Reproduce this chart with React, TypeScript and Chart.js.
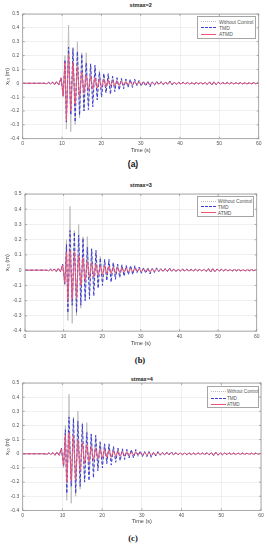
import React, { useEffect, useRef } from "react";
import { Chart, registerables } from "chart.js";

Chart.register(...registerables);

// ---------------- data ----------------
const TIME = [
  0, 5.6, 6.1, 6.6, 7.1, 7.6, 8.1, 8.6, 9.2, 9.75, 10.3, 10.75,
  11.1, 11.66, 12.22, 12.78, 13.34, 13.9, 14.46, 15.02, 15.58, 16.14,
  16.7, 17.26, 17.82, 18.38, 18.94, 19.5, 20.06, 20.62, 21.18, 21.74,
  22.3, 22.86, 23.42, 23.98, 24.54, 25.1, 25.66, 26.22, 26.78, 27.34,
  27.9, 28.46, 29.02, 29.58, 30.14, 30.7, 31.26, 31.82, 32.38, 32.94,
  33.5, 34.06, 34.62, 35.18, 35.74, 36.3, 36.86, 37.42, 37.98, 38.54,
  39.1, 39.66, 40.22, 40.78, 41.34, 41.9, 42.46, 43.02, 43.58, 44.14,
  44.7, 45.26, 45.82, 46.38, 46.94, 47.5, 48.06, 48.62, 49.18, 49.74,
  50.3, 50.86, 51.42, 51.98, 52.54, 53.1, 53.66, 54.22, 54.78, 55.34,
  55.9, 56.46, 57.02, 57.58, 58.14, 58.7, 59.26, 59.82, 60,
];

const WITHOUT_CONTROL = [
  0, 0, -0.004, 0.005, -0.006, 0.008, -0.01, 0.013, -0.012, 0.04, -0.1, 0.2,
  -0.33, 0.42, -0.35, 0.26, -0.3, 0.3, -0.25, 0.22, -0.2, 0.22,
  -0.15, 0.14, -0.12, 0.12, -0.1, 0.09, -0.08, 0.07, -0.06, 0.06,
  -0.05, 0.05, -0.04, 0.04, -0.035, 0.03, -0.03, 0.03, -0.025, 0.025,
  -0.02, 0.02, -0.02, 0.018, -0.02, 0.015, -0.015, 0.015, -0.02, 0.012,
  -0.012, 0.012, -0.01, 0.01, -0.01, 0.01, -0.008, 0.012, -0.01, 0.008,
  -0.008, 0.007, -0.007, 0.007, -0.006, 0.006, -0.006, 0.006, -0.006, 0.006,
  -0.005, 0.006, -0.006, 0.007, -0.008, 0.01, -0.012, 0.012, -0.01, 0.008,
  -0.007, 0.006, -0.006, 0.005, -0.005, 0.005, -0.005, 0.005, -0.005, 0.005,
  -0.004, 0.004, -0.004, 0.004, -0.004, 0.004, -0.003, 0.003, 0,
];

const TMD = [
  0, 0, -0.004, 0.006, -0.005, 0.008, -0.01, 0.012, -0.01, 0.04, -0.09, 0.17,
  -0.28, 0.26, -0.23, 0.25, -0.28, 0.23, -0.23, 0.21, -0.2, 0.15,
  -0.19, 0.14, -0.17, 0.13, -0.12, 0.08, -0.1, 0.07, -0.07, 0.07,
  -0.08, 0.05, -0.06, 0.04, -0.05, 0.035, -0.04, 0.03, -0.03, 0.03,
  -0.03, 0.03, -0.015, 0.02, -0.02, 0.015, -0.02, 0.015, -0.025, 0.01,
  -0.015, 0.015, -0.01, 0.012, -0.01, 0.01, -0.008, 0.015, -0.01, 0.008,
  -0.008, 0.007, -0.006, 0.008, -0.007, 0.006, -0.006, 0.005, -0.007, 0.006,
  -0.005, 0.006, -0.005, 0.007, -0.008, 0.01, -0.014, 0.012, -0.01, 0.008,
  -0.007, 0.006, -0.005, 0.006, -0.005, 0.005, -0.006, 0.005, -0.004, 0.005,
  -0.005, 0.004, -0.005, 0.004, -0.004, 0.005, -0.004, 0.003, 0,
];

const ATMD_STMAX2 = [
  0, 0, -0.004, 0.006, -0.005, 0.008, -0.01, 0.012, -0.01, 0.04, -0.09, 0.15,
  -0.27, 0.21, -0.2, 0.15, -0.15, 0.12, -0.1, 0.08, -0.07, 0.06,
  -0.05, 0.05, -0.04, 0.04, -0.035, 0.03, -0.03, 0.03, -0.025, 0.025,
  -0.02, 0.02, -0.02, 0.015, -0.015, 0.015, -0.012, 0.012, -0.012, 0.01,
  -0.01, 0.012, -0.008, 0.01, -0.01, 0.008, -0.008, 0.008, -0.012, 0.008,
  -0.008, 0.008, -0.006, 0.008, -0.006, 0.006, -0.006, 0.01, -0.006, 0.006,
  -0.005, 0.005, -0.005, 0.006, -0.005, 0.005, -0.005, 0.004, -0.005, 0.005,
  -0.004, 0.005, -0.005, 0.006, -0.007, 0.009, -0.012, 0.01, -0.008, 0.006,
  -0.005, 0.005, -0.004, 0.005, -0.004, 0.004, -0.005, 0.004, -0.004, 0.004,
  -0.004, 0.003, -0.004, 0.003, -0.003, 0.004, -0.003, 0.003, 0,
];

const ATMD_STMAX3 = [
  0, 0, -0.004, 0.006, -0.005, 0.008, -0.01, 0.012, -0.01, 0.035, -0.08, 0.12,
  -0.2, 0.13, -0.19, 0.12, -0.18, 0.1, -0.1, 0.08, -0.07, 0.06,
  -0.05, 0.05, -0.045, 0.04, -0.035, 0.03, -0.03, 0.03, -0.025, 0.025,
  -0.02, 0.02, -0.02, 0.018, -0.015, 0.015, -0.012, 0.012, -0.012, 0.01,
  -0.01, 0.012, -0.008, 0.01, -0.01, 0.008, -0.008, 0.008, -0.012, 0.008,
  -0.008, 0.008, -0.006, 0.008, -0.006, 0.006, -0.006, 0.01, -0.006, 0.006,
  -0.005, 0.005, -0.005, 0.006, -0.005, 0.005, -0.005, 0.004, -0.005, 0.005,
  -0.004, 0.005, -0.005, 0.006, -0.007, 0.009, -0.012, 0.01, -0.008, 0.006,
  -0.005, 0.005, -0.004, 0.005, -0.004, 0.004, -0.005, 0.004, -0.004, 0.004,
  -0.004, 0.003, -0.004, 0.003, -0.003, 0.004, -0.003, 0.003, 0,
];

const ATMD_STMAX4 = [
  0, 0, -0.004, 0.006, -0.005, 0.008, -0.01, 0.012, -0.01, 0.035, -0.08, 0.13,
  -0.2, 0.15, -0.19, 0.13, -0.18, 0.1, -0.12, 0.08, -0.07, 0.065,
  -0.055, 0.05, -0.045, 0.04, -0.035, 0.035, -0.03, 0.03, -0.025, 0.025,
  -0.022, 0.02, -0.02, 0.018, -0.015, 0.015, -0.013, 0.012, -0.012, 0.01,
  -0.01, 0.012, -0.008, 0.01, -0.01, 0.008, -0.008, 0.008, -0.012, 0.008,
  -0.008, 0.008, -0.006, 0.008, -0.006, 0.006, -0.006, 0.01, -0.006, 0.006,
  -0.005, 0.005, -0.005, 0.006, -0.005, 0.005, -0.005, 0.004, -0.005, 0.005,
  -0.004, 0.005, -0.005, 0.006, -0.007, 0.009, -0.012, 0.01, -0.008, 0.006,
  -0.005, 0.005, -0.004, 0.005, -0.004, 0.004, -0.005, 0.004, -0.004, 0.004,
  -0.004, 0.003, -0.004, 0.003, -0.003, 0.004, -0.003, 0.003, 0,
];

const ATMD_SERIES = [ATMD_STMAX2, ATMD_STMAX3, ATMD_STMAX4];
const PANEL_TITLES = ["stmax=2", "stmax=3", "stmax=4"];
const PANEL_LABELS = ["(a)", "(b)", "(c)"];
const SERIES_NAMES = ["Without Control", "TMD", "ATMD"];
const X_TITLE = "Time (s)";
const Y_TITLE = "x\u2081\u2080 (m)";
const X_MIN = 0, X_MAX = 60, X_STEP = 10;
const Y_MIN = -0.4, Y_MAX = 0.5, Y_STEP = 0.1;

// ---------------- styles / layout ----------------
const FONT = "'Liberation Sans', Arial, Helvetica, sans-serif";
const COL_UNC = "rgba(175,175,175,0.85)";
const COL_TMD = "rgb(60,60,215)";
const COL_ATMD = "rgb(240,85,115)";

const PANELS = [
  {
    plot: { l: 22.7, t: 14, r: 258.7, b: 138.7 },
    titleY: 5, labelX: 133, labelY: 164, labelFont: FONT,
    xTitleOff: 12, tickOff: 5.3,
    legend: { l: 197, t: 16, w: 59, h: 23, fs: 5, rows: [4.7, 10.7, 17.3], tx: 21 },
  },
  {
    plot: { l: 25, t: 194, r: 256.7, b: 330.7 },
    titleY: 185, labelX: 140, labelY: 360, labelFont: "'Liberation Serif', 'Times New Roman', serif",
    xTitleOff: 12.6, tickOff: 5.3,
    legend: { l: 196.7, t: 196, w: 57.6, h: 21.3, fs: 5, rows: [4, 9.7, 15.7], tx: 20 },
  },
  {
    plot: { l: 22.7, t: 383.3, r: 261, b: 510.7 },
    titleY: 379, labelX: 133, labelY: 538, labelFont: "'Liberation Serif', 'Times New Roman', serif",
    xTitleOff: 11.3, tickOff: 5,
    legend: { l: 206.7, t: 386, w: 52.6, h: 21.7, fs: 4.6, rows: [4.7, 11.3, 17.3], tx: 19.3 },
  },
];

const TOP_PAD = 10;
const TICK_FS = 5;
const TITLE_FS = 5.5;

const boxPlugin = {
  id: "matlabBox",
  afterDatasetsDraw(chart: any) {
    const { ctx, chartArea: a, scales } = chart;
    const x = scales.x, y = scales.y;
    ctx.save();
    ctx.strokeStyle = "rgb(150,150,150)";
    ctx.lineWidth = 0.8;
    ctx.strokeRect(a.left, a.top, a.right - a.left, a.bottom - a.top);
    ctx.beginPath();
    x.ticks.forEach((t: any) => {
      const px = x.getPixelForValue(t.value);
      ctx.moveTo(px, a.bottom); ctx.lineTo(px, a.bottom - 2);
      ctx.moveTo(px, a.top); ctx.lineTo(px, a.top + 2);
    });
    y.ticks.forEach((t: any) => {
      const py = y.getPixelForValue(t.value);
      ctx.moveTo(a.left, py); ctx.lineTo(a.left + 2, py);
      ctx.moveTo(a.right, py); ctx.lineTo(a.right - 2, py);
    });
    ctx.stroke();
    ctx.restore();
  },
};

function toPoints(vals: number[]) {
  return TIME.map((t, i) => ({ x: t, y: vals[i] }));
}

function Panel({ index }: { index: number }) {
  const ref = useRef<HTMLCanvasElement>(null);
  const p = PANELS[index];
  const plotH = p.plot.b - p.plot.t;
  const xAxisH = p.xTitleOff + (TITLE_FS * 1.2) / 2;
  const canvasTop = p.plot.t - TOP_PAD;
  const canvasH = plotH + TOP_PAD + xAxisH;

  useEffect(() => {
    const canvas = ref.current!;
    const chart = new Chart(canvas, {
      type: "line",
      data: {
        datasets: [
          {
            label: SERIES_NAMES[2],
            data: toPoints(ATMD_SERIES[index]),
            borderColor: COL_ATMD,
            borderWidth: 0.9,
            pointRadius: 0,
            tension: 0,
            order: 0,
          },
          {
            label: SERIES_NAMES[1],
            data: toPoints(TMD),
            borderColor: COL_TMD,
            borderWidth: 1,
            borderDash: [3, 2],
            pointRadius: 0,
            tension: 0,
            order: 1,
          },
          {
            label: SERIES_NAMES[0],
            data: toPoints(WITHOUT_CONTROL),
            borderColor: COL_UNC,
            borderWidth: 0.8,
            pointRadius: 0,
            tension: 0,
            order: 2,
          },
        ],
      },
      options: {
        animation: false,
        responsive: false,
        devicePixelRatio: 1,
        events: [],
        layout: { padding: { top: TOP_PAD, left: 0, right: 268 - p.plot.r, bottom: 0 } },
        plugins: { legend: { display: false }, tooltip: { enabled: false }, title: { display: false } },
        scales: {
          x: {
            type: "linear",
            min: X_MIN,
            max: X_MAX,
            afterFit: (s: any) => { s.height = xAxisH; },
            grid: { color: "rgba(0,0,0,0.08)", lineWidth: 0.8, drawTicks: false },
            border: { display: false },
            ticks: {
              stepSize: X_STEP,
              padding: p.tickOff - (TICK_FS * 1.2) / 2,
              color: "#555",
              font: { family: FONT, size: TICK_FS },
              maxRotation: 0,
              callback: (v: any) => String(v),
            },
            title: {
              display: true,
              text: X_TITLE,
              color: "#444",
              padding: { top: 0, bottom: 0 },
              font: { family: FONT, size: TITLE_FS },
            },
          },
          y: {
            type: "linear",
            min: Y_MIN,
            max: Y_MAX,
            afterFit: (s: any) => { s.width = p.plot.l; },
            grid: { color: "rgba(0,0,0,0.08)", lineWidth: 0.8, drawTicks: false },
            border: { display: false },
            ticks: {
              stepSize: Y_STEP,
              padding: 3.5,
              color: "#555",
              font: { family: FONT, size: TICK_FS },
              callback: (v: any) => String(Math.round(Number(v) * 10) / 10),
            },
            title: {
              display: true,
              text: Y_TITLE,
              color: "#444",
              padding: { top: 7 - (TITLE_FS * 1.2) / 2, bottom: 0 },
              font: { family: FONT, size: TITLE_FS },
            },
          },
        },
      },
      plugins: [boxPlugin],
    } as any);
    return () => chart.destroy();
  }, [index]);

  const lg = p.legend;
  const sampleStyles = [
    { borderTop: `1px dotted ${COL_UNC}` },
    { borderTop: `1px dashed ${COL_TMD}` },
    { borderTop: `1px solid ${COL_ATMD}` },
  ];

  return (
    <>
      <div
        style={{
          position: "absolute", left: 0, width: 268, top: p.titleY - 4, height: 8,
          lineHeight: "8px", textAlign: "center", paddingLeft: (p.plot.l + p.plot.r) - 268,
          boxSizing: "border-box",
          fontFamily: FONT, fontWeight: "bold", fontSize: TITLE_FS, color: "#222",
        }}
      >
        {PANEL_TITLES[index]}
      </div>
      <canvas
        ref={ref}
        width={268}
        height={Math.round(canvasH)}
        style={{ position: "absolute", left: 0, top: canvasTop, width: 268, height: Math.round(canvasH) }}
      />
      <div
        style={{
          position: "absolute", left: lg.l, top: lg.t, width: lg.w, height: lg.h,
          border: "0.8px solid rgb(165,165,165)", background: "#fff", boxSizing: "border-box",
        }}
      >
        {SERIES_NAMES.map((name, i) => (
          <React.Fragment key={name}>
            <div
              style={{
                position: "absolute", left: 3, width: 15, top: lg.rows[i] - 0.5, height: 0,
                ...sampleStyles[i],
              }}
            />
            <div
              style={{
                position: "absolute", left: lg.tx, top: lg.rows[i] - lg.fs * 0.6, height: lg.fs * 1.2,
                lineHeight: `${lg.fs * 1.2}px`, whiteSpace: "nowrap",
                fontFamily: FONT, fontSize: lg.fs, color: "#555",
              }}
            >
              {name}
            </div>
          </React.Fragment>
        ))}
      </div>
      <div
        style={{
          position: "absolute", left: p.labelX - 20, width: 40, top: p.labelY - 6, height: 12,
          lineHeight: "12px", textAlign: "center",
          fontFamily: p.labelFont, fontWeight: "bold", fontSize: 8.5, color: "#111",
        }}
      >
        {PANEL_LABELS[index]}
      </div>
    </>
  );
}

export default function App() {
  return (
    <div
      style={{
        position: "absolute", left: 0, top: 0, width: 268, height: 550,
        background: "#fff", overflow: "hidden",
      }}
    >
      <Panel index={0} />
      <Panel index={1} />
      <Panel index={2} />
    </div>
  );
}
